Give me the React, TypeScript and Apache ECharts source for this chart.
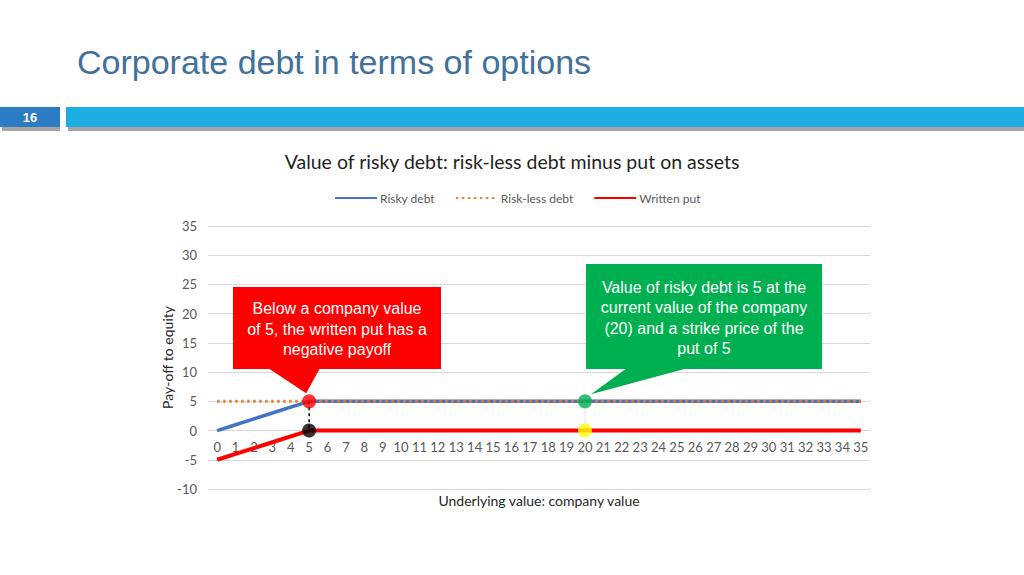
import { useEffect, useRef } from "react";
import * as echarts from "echarts";

const categories = [
  "0", "1", "2", "3", "4", "5", "6", "7", "8", "9", "10", "11",
  "12", "13", "14", "15", "16", "17", "18", "19", "20", "21", "22", "23",
  "24", "25", "26", "27", "28", "29", "30", "31", "32", "33", "34", "35",
];
const riskyDebt = [
  0, 1, 2, 3, 4, 5, 5, 5, 5, 5, 5, 5, 5, 5, 5, 5, 5, 5,
  5, 5, 5, 5, 5, 5, 5, 5, 5, 5, 5, 5, 5, 5, 5, 5, 5, 5,
];
const risklessDebt = [
  5, 5, 5, 5, 5, 5, 5, 5, 5, 5, 5, 5, 5, 5, 5, 5, 5, 5,
  5, 5, 5, 5, 5, 5, 5, 5, 5, 5, 5, 5, 5, 5, 5, 5, 5, 5,
];
const writtenPut = [
  -5, -4, -3, -2, -1, 0, 0, 0, 0, 0, 0, 0, 0, 0, 0, 0, 0, 0,
  0, 0, 0, 0, 0, 0, 0, 0, 0, 0, 0, 0, 0, 0, 0, 0, 0, 0,
];

// highlighted points: (company value, payoff)
const markerX = [5, 5, 20, 20];
const markerY = [5, 0, 5, 0];
const markerColors = ["#FF0000", "#000000", "#00B050", "#FFFF00"];

const redNote = "Below a company value\nof 5, the written put has a\nnegative payoff";
const greenNote =
  "Value of risky debt is 5 at the\ncurrent value of the company\n(20) and a strike price of the\nput of 5";

const Y_MIN = -10;
const Y_MAX = 35;
const GRID = { left: 208, right: 154, top: 226, bottom: 86 };
const PLOT_H = 575 - GRID.top - GRID.bottom;

const CHART_FONT = "Lato, 'Open Sans', sans-serif";
const SLIDE_FONT = "'Liberation Sans', Arial, sans-serif";

export default function App() {
  const chartRef = useRef<HTMLDivElement>(null);

  useEffect(() => {
    if (!chartRef.current) return;
    const chart = echarts.init(chartRef.current, null, { renderer: "svg" });

    // category axis crosses the value axis at 0, as in the spreadsheet chart
    const zeroOffset = -PLOT_H * (0 - Y_MIN) / (Y_MAX - Y_MIN);

    chart.setOption({
      animation: false,
      textStyle: { fontFamily: CHART_FONT },
      title: {
        text: "Value of risky debt: risk-less debt minus put on assets",
        left: "center",
        top: 146,
        textStyle: { fontSize: 19.5, fontWeight: "normal", color: "#1f1f1f", fontFamily: CHART_FONT },
      },
      legend: {
        left: 329,
        top: 187,
        itemWidth: 42,
        itemHeight: 10,
        itemGap: 20,
        data: ["Risky debt", "Risk-less debt", "Written put"],
        itemStyle: { opacity: 0 },
        textStyle: { fontSize: 12, color: "#595959", padding: [0, 0, 0, -2] },
      },
      grid: GRID,
      xAxis: {
        type: "category",
        data: categories,
        boundaryGap: true,
        offset: zeroOffset,
        axisLine: { onZero: false, lineStyle: { color: "#d9d9d9" } },
        axisTick: { show: false },
        axisLabel: { color: "#595959", fontSize: 13, margin: 10, interval: 0 },
        name: "Underlying value: company value",
        nameLocation: "middle",
        nameGap: 63,
        nameMoveOverlap: false,
        nameTextStyle: { fontSize: 14, color: "#262626" },
      },
      yAxis: {
        type: "value",
        min: Y_MIN,
        max: Y_MAX,
        interval: 5,
        axisLine: { show: false, onZero: false },
        axisTick: { show: false },
        axisLabel: { color: "#595959", fontSize: 13, margin: 11 },
        splitLine: { lineStyle: { color: "#d9d9d9", width: 1 } },
        name: "Pay-off to equity",
        nameLocation: "middle",
        nameGap: 34,
        nameMoveOverlap: false,
        nameTextStyle: { fontSize: 14, color: "#262626" },
      },
      series: [
        {
          name: "Risky debt",
          type: "line",
          data: riskyDebt,
          symbol: "none",
          lineStyle: { color: "#4472C4", width: 3.5 },
          itemStyle: { color: "#4472C4" },
          z: 2,
        },
        {
          name: "Risk-less debt",
          type: "line",
          data: risklessDebt,
          symbol: "none",
          lineStyle: { color: "#ED7D31", width: 3, type: [2.5, 3.5] },
          itemStyle: { color: "#ED7D31" },
          z: 3,
        },
        {
          name: "Written put",
          type: "line",
          data: writtenPut,
          symbol: "none",
          lineStyle: { color: "#FF0000", width: 4 },
          itemStyle: { color: "#FF0000" },
          z: 2,
        },
        {
          name: "strike link",
          type: "line",
          data: [
            [markerX[0], markerY[0]],
            [markerX[1], markerY[1]],
          ],
          symbol: "none",
          lineStyle: { color: "#000000", width: 1.5, type: [3, 3] },
          z: 4,
        },
        {
          name: "current link",
          type: "line",
          data: [
            [markerX[2], markerY[2]],
            [markerX[3], markerY[3]],
          ],
          symbol: "none",
          lineStyle: { color: "#e3e3e3", width: 1 },
          z: 1,
        },
        {
          name: "points",
          type: "scatter",
          symbolSize: 14,
          z: 5,
          data: markerX.map((x, i) => ({
            value: [x, markerY[i]],
            itemStyle: { color: markerColors[i] },
          })),
        },
      ],
    });

    const tipRed = chart.convertToPixel({ xAxisIndex: 0, yAxisIndex: 0 }, [markerX[0], markerY[0]]);
    const tipGreen = chart.convertToPixel({ xAxisIndex: 0, yAxisIndex: 0 }, [markerX[2], markerY[2]]);

    chart.setOption({
      graphic: [
        // slide header
        {
          type: "text",
          left: 77,
          top: 45,
          style: {
            text: "Corporate debt in terms of options",
            fontSize: 34,
            fontFamily: SLIDE_FONT,
            fill: "#41719C",
          },
        },
        { type: "rect", shape: { x: 2, y: 127, width: 58, height: 4 }, style: { fill: "#a6a6a6" } },
        { type: "rect", shape: { x: 68, y: 127, width: 956, height: 4 }, style: { fill: "#a6a6a6" } },
        { type: "rect", shape: { x: 0, y: 107, width: 60, height: 20 }, style: { fill: "#2C7CC4" } },
        { type: "rect", shape: { x: 66, y: 107, width: 958, height: 20 }, style: { fill: "#1DADE3" } },
        {
          type: "text",
          x: 30,
          y: 117,
          style: {
            text: "16",
            fontSize: 13,
            fontWeight: "bold",
            fontFamily: "'Liberation Sans', Arial, sans-serif",
            fill: "#ffffff",
            align: "center",
            verticalAlign: "middle",
          },
        },
        // red callout
        {
          type: "polygon",
          z: 10,
          shape: {
            points: [
              [268, 368],
              [320, 368],
              [tipRed[0] - 3, tipRed[1] - 8],
            ],
          },
          style: { fill: "#FF0000" },
        },
        { type: "rect", z: 10, shape: { x: 233, y: 287, width: 208, height: 82 }, style: { fill: "#FF0000" } },
        {
          type: "text",
          z: 11,
          x: 337,
          y: 329,
          style: {
            text: redNote,
            fontSize: 16,
            lineHeight: 20.5,
            fontFamily: "'Liberation Sans', Arial, sans-serif",
            fill: "#ffffff",
            align: "center",
            verticalAlign: "middle",
          },
        },
        // green callout
        {
          type: "polygon",
          z: 10,
          shape: {
            points: [
              [627, 368],
              [688, 368],
              [tipGreen[0] + 6, tipGreen[1] - 7],
            ],
          },
          style: { fill: "#00B050" },
        },
        { type: "rect", z: 10, shape: { x: 586, y: 264, width: 236, height: 105 }, style: { fill: "#00B050" } },
        {
          type: "text",
          z: 11,
          x: 704,
          y: 318,
          style: {
            text: greenNote,
            fontSize: 16,
            lineHeight: 20.5,
            fontFamily: "'Liberation Sans', Arial, sans-serif",
            fill: "#ffffff",
            align: "center",
            verticalAlign: "middle",
          },
        },
      ],
    });

    return () => chart.dispose();
  }, []);

  return (
    <div
      ref={chartRef}
      style={{ position: "absolute", left: 0, top: 0, width: 1024, height: 575, background: "#ffffff" }}
    />
  );
}
